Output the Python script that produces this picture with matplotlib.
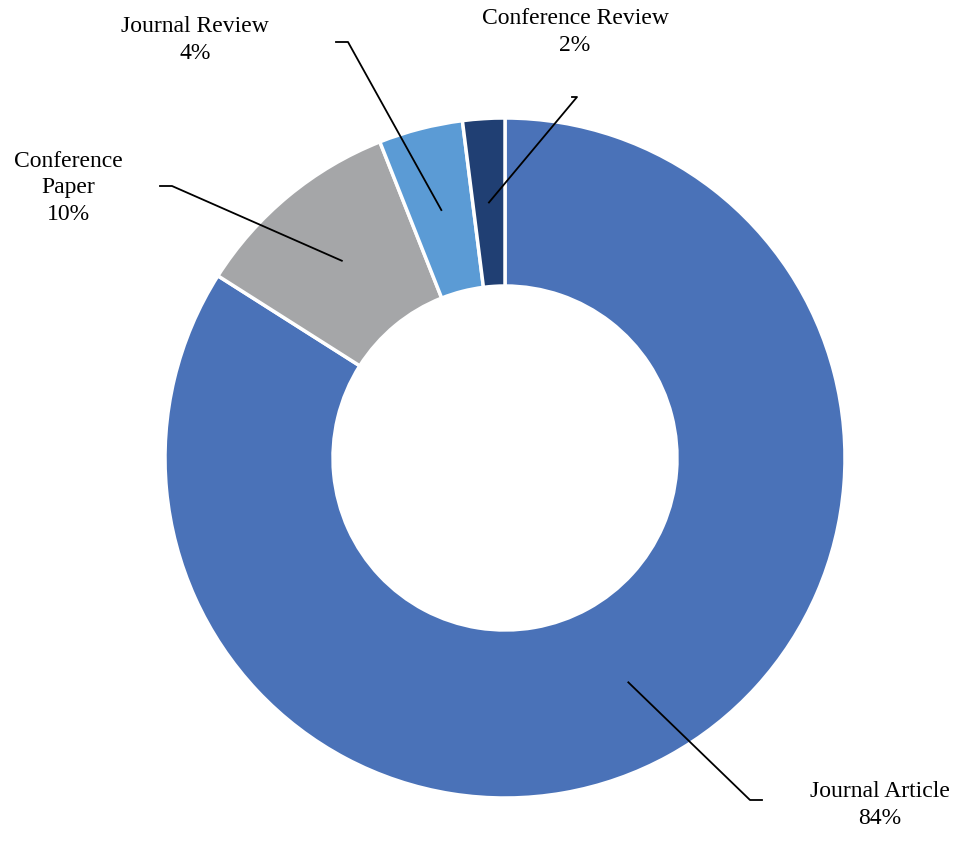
import numpy as np
import matplotlib.pyplot as plt

categories = ["Journal Article", "Conference Paper", "Journal Review", "Conference Review"]
shares = [84, 10, 4, 2]
colors = ["#4a72b8", "#a5a6a8", "#5b9bd5", "#203f73"]

W, H = 973, 858
fig = plt.figure(figsize=(W / 100, H / 100), dpi=100)
ax = fig.add_axes([0, 0, 1, 1])
ax.set_xlim(0, W)
ax.set_ylim(0, H)
ax.set_aspect("equal")
ax.axis("off")

cx, cy, r_out, r_in = 505, H - 458, 340, 172
wedges, _ = ax.pie(shares, colors=colors, startangle=90, counterclock=False,
                   center=(cx, cy), radius=r_out, frame=True,
                   wedgeprops=dict(width=r_out - r_in, edgecolor="white", linewidth=2.5))
ax.set_xlim(0, W)
ax.set_ylim(0, H)
ax.axis("off")

# label layout: elbow point, end of horizontal tick, text position (pixel coords, y down)
layout = [
    ((750, 800), (762, 800), (880, 805)),
    ((172, 186), (160, 186), (68, 188)),
    ((348, 42), (336, 42), (195, 40)),
    ((577, 97), (572, 97), (575, 32)),
]
labels = ["Journal Article\n84%", "Conference\nPaper\n10%", "Journal Review\n4%",
          "Conference Review\n2%"]

r_mid = (r_out + r_in) / 2
for w, lab, (elbow, tick, txt) in zip(wedges, labels, layout):
    ang = np.deg2rad((w.theta1 + w.theta2) / 2)
    ax_pt = (cx + r_mid * np.cos(ang), cy + r_mid * np.sin(ang))
    xs = [ax_pt[0], elbow[0], tick[0]]
    ys = [ax_pt[1], H - elbow[1], H - tick[1]]
    ax.plot(xs, ys, color="black", lw=1.3)
    ax.text(txt[0], H - txt[1], lab, ha="center", va="center", fontsize=17,
            family="Liberation Serif", linespacing=1.35)

fig.savefig("out.png", dpi=100)
